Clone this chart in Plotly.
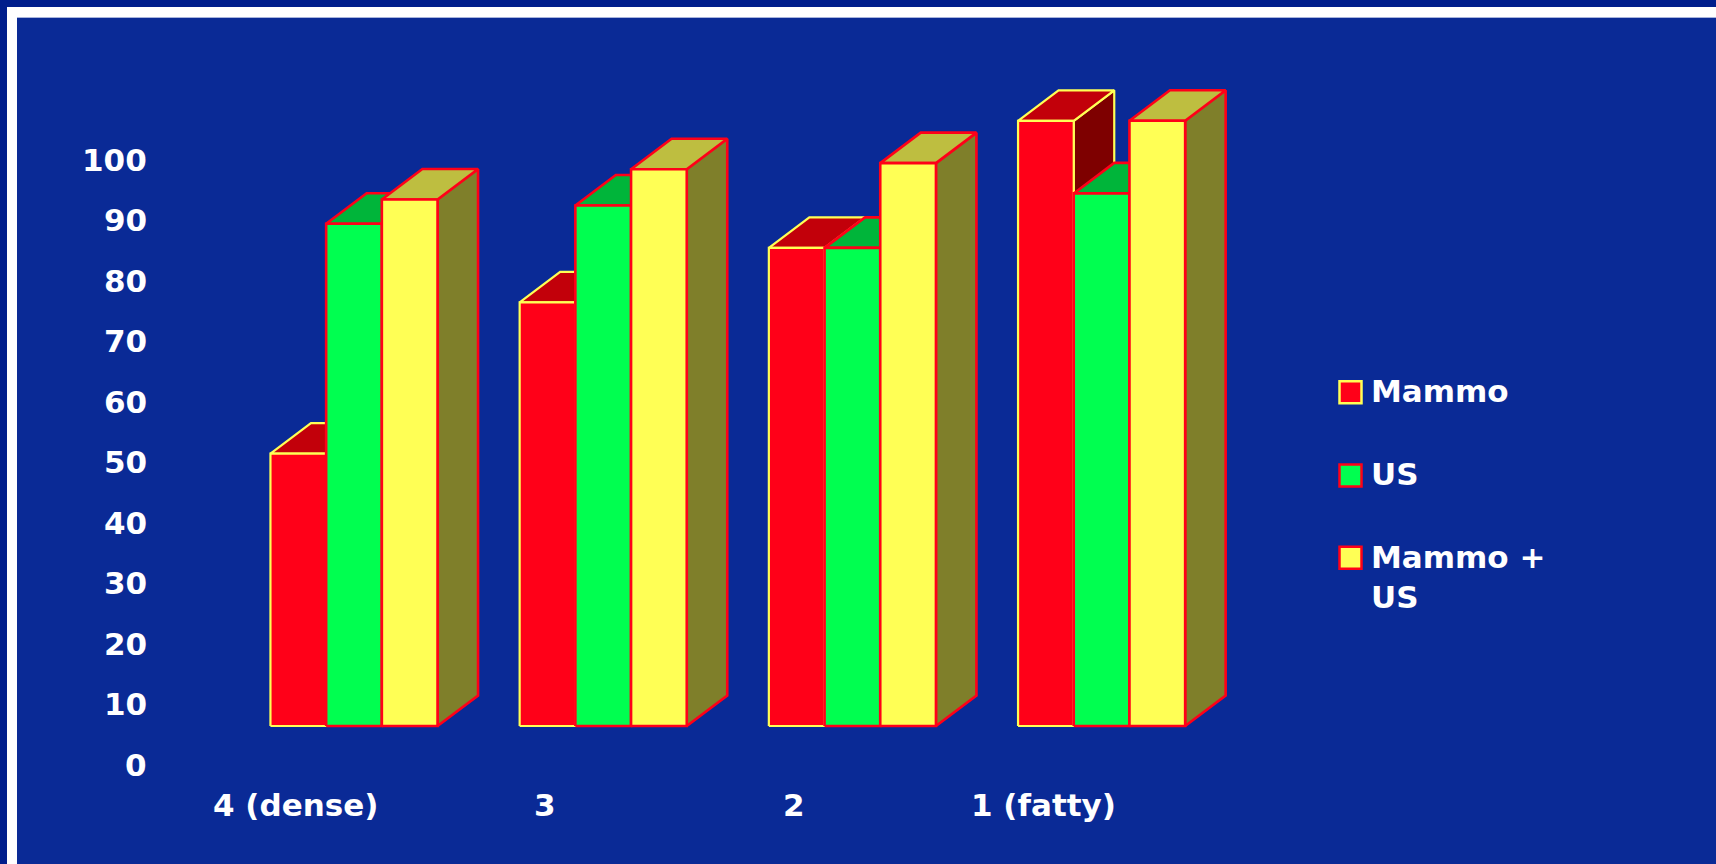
import plotly.graph_objects as go

# ---- data -------------------------------------------------------------
categories = ["4 (dense)", "3", "2", "1 (fatty)"]
series_names = ["Mammo", "US", "Mammo +<br>US"]
mammo = [45, 70, 79, 100]
us = [83, 86, 79, 88]
mammo_us = [87, 92, 93, 100]
y_tick_values = [0, 10, 20, 30, 40, 50, 60, 70, 80, 90, 100]

series_values = [mammo, us, mammo_us]

# ---- styling ----------------------------------------------------------
W, H = 1716, 864
BG_BLUE = "#0A2A96"
OUTER_NAVY = "#001E8C"
TEXT = "white"
FONT = "DejaVu Sans"

# front / top / side face colours and outline colour per series
faces = [
    dict(front="#FF0018", top="#C2000A", side="#7E0000", edge="#FFFF55", ew=2.2),
    dict(front="#00FF50", top="#00B53A", side="#007F28", edge="#FF0018", ew=2.6),
    dict(front="#FFFF55", top="#BEBE40", side="#7F7F2A", edge="#FF0018", ew=2.6),
]

# pixel geometry of the axes (plot area fills the whole page)
X0_PX, X_UNIT_PX = 295.5, 249.2      # category 0 on the front plane, spacing
Y0_PX, Y_UNIT_PX = 765.0, 6.052      # value 0 on the front plane, px per unit

x_range = [-X0_PX / X_UNIT_PX, (W - X0_PX) / X_UNIT_PX]
y_range = [-(H - Y0_PX) / Y_UNIT_PX, Y0_PX / Y_UNIT_PX]

# oblique projection constants (data units)
BAR_W = 55.7 / X_UNIT_PX
DEPTH_DX = 40.5 / X_UNIT_PX
DEPTH_DY = 30.5 / Y_UNIT_PX
FLOOR_DX = 58.5 / X_UNIT_PX          # bar row sits behind the axis plane
FLOOR_DY = 39.0 / Y_UNIT_PX


def px_x(p):
    return p / W


def px_y(p):
    return 1 - p / H


fig = go.Figure()


def add_face(xs, ys, fill, edge, ew):
    fig.add_trace(go.Scatter(
        x=xs, y=ys, mode="lines", fill="toself", fillcolor=fill,
        line=dict(color=edge, width=ew), hoverinfo="skip", showlegend=False,
    ))


# draw bars left to right so nearer faces overlap the hidden parts
for ci in range(len(categories)):
    for si, vals in enumerate(series_values):
        st = faces[si]
        v = vals[ci]
        x0 = ci + FLOOR_DX + (si - 1.5) * BAR_W
        x1 = x0 + BAR_W
        b = FLOOR_DY
        t = FLOOR_DY + v
        # right side face
        add_face([x1, x1 + DEPTH_DX, x1 + DEPTH_DX, x1, x1],
                 [b, b + DEPTH_DY, t + DEPTH_DY, t, b],
                 st["side"], st["edge"], st["ew"])
        # top face
        add_face([x0, x1, x1 + DEPTH_DX, x0 + DEPTH_DX, x0],
                 [t, t, t + DEPTH_DY, t + DEPTH_DY, t],
                 st["top"], st["edge"], st["ew"])
        # front face
        add_face([x0, x1, x1, x0, x0],
                 [b, b, t, t, b],
                 st["front"], st["edge"], st["ew"])

annotations = []
# value axis labels
for v in y_tick_values:
    annotations.append(dict(
        x=px_x(149), xref="paper", y=v, yref="y", text=str(v),
        xanchor="right", yanchor="middle", showarrow=False,
        font=dict(family=FONT, size=31, color=TEXT, weight="bold"),
    ))
# category labels along the front edge of the floor
for ci, name in enumerate(categories):
    annotations.append(dict(
        x=ci, xref="x", y=(Y0_PX - 804.5) / Y_UNIT_PX, yref="y", text=name,
        xanchor="center", yanchor="middle", showarrow=False,
        font=dict(family=FONT, size=31, color=TEXT, weight="bold"),
    ))

# legend (keys + labels)
legend_y = [392.3, 475.5, 557.8]
legend_text_y = [391.3, 474.5, 576.5]
shapes = [
    # frame: navy page, white border, blue chart field
    dict(type="rect", xref="paper", yref="paper", x0=px_x(7), x1=1.02,
         y0=-0.02, y1=px_y(7), fillcolor="white", line=dict(width=0), layer="below"),
    dict(type="rect", xref="paper", yref="paper", x0=px_x(17), x1=1.02,
         y0=-0.02, y1=px_y(18), fillcolor=BG_BLUE, line=dict(width=0), layer="below"),
    dict(type="line", xref="paper", yref="paper", x0=px_x(17), x1=1.02,
         y0=px_y(17.5), y1=px_y(17.5), line=dict(color="#A8B4DC", width=1), layer="below"),
]
for si, name in enumerate(series_names):
    st = faces[si]
    cy = legend_y[si]
    shapes.append(dict(
        type="rect", xref="paper", yref="paper",
        x0=px_x(1339.5), x1=px_x(1361.5), y0=px_y(cy + 11), y1=px_y(cy - 11),
        fillcolor=st["front"], line=dict(color=st["edge"], width=2.5),
    ))
    annotations.append(dict(
        x=px_x(1369), xref="paper", y=px_y(legend_text_y[si]), yref="paper",
        text=name, xanchor="left", yanchor="middle", align="left", showarrow=False,
        font=dict(family=FONT, size=31, color=TEXT, weight="bold"),
    ))

fig.update_layout(
    width=W, height=H,
    margin=dict(l=0, r=0, t=0, b=0, pad=0),
    paper_bgcolor=OUTER_NAVY,
    plot_bgcolor="rgba(0,0,0,0)",
    xaxis=dict(range=x_range, visible=False, fixedrange=True),
    yaxis=dict(range=y_range, visible=False, fixedrange=True),
    showlegend=False,
    shapes=shapes,
    annotations=annotations,
)

fig.write_html("out.html")
